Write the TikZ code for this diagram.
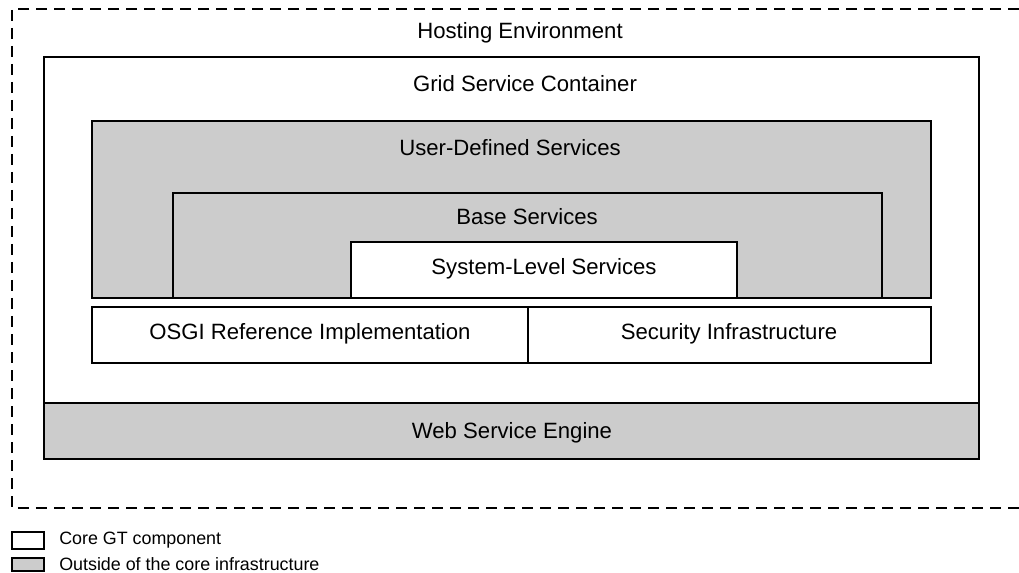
\documentclass[tikz,border=0pt]{standalone}
\usepackage{fontspec}
\setmainfont{Liberation Sans}
\definecolor{boxgray}{HTML}{CCCCCC}
\begin{document}
\begin{tikzpicture}[x=0.75pt,y=-0.75pt,
  thick line/.style={draw=black,line width=1.6pt},
  thin line/.style={draw=black,line width=1pt},
  graybox/.style={fill=boxgray},
  lbl/.style={font=\fontsize{16.6}{19}\selectfont,inner sep=0pt,anchor=center},
  legendlbl/.style={font=\fontsize{13.4}{15}\selectfont,inner sep=0pt,anchor=west},
  hostline/.style={draw=black,line width=1.1pt,dash pattern=on 8.25pt off 5.25pt}]
\useasboundingbox (0,0) rectangle (1019,573);
% hosting environment (dashed, open on the right)
\draw[hostline] (1019,9) -- (12,9) -- (12,508) -- (1019,508);
\node[lbl] (host) at (520,33) {Hosting Environment};
% grid service container
\draw[thick line,fill=white] (44,57) rectangle (979,459);
\node[lbl] (gsc) at (525,84) {Grid Service Container};
% web service engine
\draw[thin line,graybox] (44,403) rectangle (979,459);
\draw[thick line] (44,57) rectangle (979,459);
\node[lbl] (wse) at (512,433) {Web Service Engine};
% user-defined services
\draw[thick line,graybox] (92,121) rectangle (931,298);
\node[lbl] (uds) at (510,148) {User-Defined Services};
% base services
\draw[thick line,graybox] (173,298) -- (173,193) -- (882,193) -- (882,298);
\node[lbl] (bs) at (527,217) {Base Services};
% system-level services
\draw[thick line,fill=white] (351,298) -- (351,242) -- (737,242) -- (737,298);
\node[lbl] (sls) at (544,269) {System-Level Services};
\draw[thick line] (92,298) -- (931,298);
% OSGI + security
\draw[thin line,fill=white] (92,307) rectangle (931,363);
\draw[thin line] (528,307) -- (528,363);
\node[lbl] (osgi) at (310,334) {OSGI Reference Implementation};
\node[lbl] (sec) at (729,334) {Security Infrastructure};
% legend
\draw[thin line,fill=white] (12,532) rectangle (44,549);
\node[legendlbl] (lg1) at (59,540.5) {Core GT component};
\draw[thick line,graybox] (12,558) rectangle (44,571);
\node[legendlbl] (lg2) at (59,564) {Outside of the core infrastructure};
\end{tikzpicture}
\end{document}
